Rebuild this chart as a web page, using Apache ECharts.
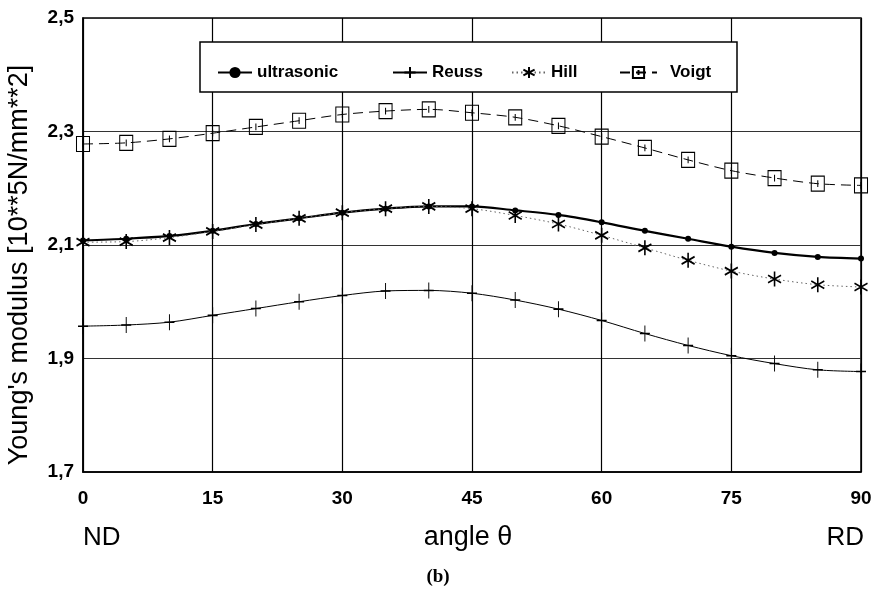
<!DOCTYPE html>
<html>
<head>
<meta charset="utf-8">
<script src="https://cdn.jsdelivr.net/npm/echarts@6/dist/echarts.min.js"></script>
<style>
  html, body { margin: 0; padding: 0; background: #fff; }
  #main { width: 877px; height: 590px; }
</style>
</head>
<body>
<div id="main"></div>
<script>
// angle from ND (0) to RD (90), every 5 degrees
const angles = [0, 5, 10, 15, 20, 25, 30, 35, 40, 45, 50, 55, 60, 65, 70, 75, 80, 85, 90]
const ultrasonic = [2.108, 2.111, 2.116, 2.125, 2.137, 2.147, 2.157, 2.164, 2.168, 2.168, 2.161, 2.153, 2.140, 2.125, 2.111, 2.097, 2.086, 2.079, 2.076]
const reuss = [1.957, 1.959, 1.964, 1.976, 1.988, 2.000, 2.011, 2.019, 2.020, 2.015, 2.003, 1.987, 1.967, 1.944, 1.923, 1.905, 1.891, 1.880, 1.877]
const hill = [2.105, 2.106, 2.113, 2.124, 2.136, 2.147, 2.157, 2.164, 2.168, 2.164, 2.152, 2.137, 2.117, 2.095, 2.073, 2.054, 2.040, 2.030, 2.026]
const voigt = [2.278, 2.280, 2.287, 2.297, 2.308, 2.319, 2.330, 2.336, 2.339, 2.333, 2.325, 2.310, 2.291, 2.271, 2.250, 2.231, 2.218, 2.208, 2.205]

const font = 'Liberation Sans, Arial, sans-serif'
const pair = (arr) => angles.map((a, i) => [a, arr[i]])

// marker shapes
const plusPath = 'path://M0,-1L0,1M-0.6,0L0.6,0'
const starPath = 'path://M0,-1L0,1M-0.87,-0.5L0.87,0.5M-0.87,0.5L0.87,-0.5'
const boxPath = 'path://M-1,-1L1,-1L1,1L-1,1ZM0,-0.45L0,0.45'

const chart = echarts.init(document.getElementById('main'))

const legendBase = {
    top: 64,
    padding: 0,
    itemWidth: 34,
    itemHeight: 14,
    selectedMode: false,
    textStyle: { fontFamily: font, fontSize: 17, fontWeight: 'bold', color: '#000' }
}

const option = {
    backgroundColor: '#fff',
    animation: false,
    grid: {
        left: 83,
        right: 16,
        top: 18,
        bottom: 118,
        show: true,
        borderColor: '#000',
        borderWidth: 1.5
    },
    legend: [
        Object.assign({}, legendBase, { data: ['ultrasonic'], left: 217 }),
        Object.assign({}, legendBase, { data: ['Reuss'], left: 392 }),
        Object.assign({}, legendBase, { data: ['Hill'], left: 511 }),
        Object.assign({}, legendBase, { data: ['Voigt'], left: 619, itemWidth: 37,
            textStyle: Object.assign({}, legendBase.textStyle, { padding: [0, 0, 0, 8] }) })
    ],
    xAxis: {
        type: 'value',
        min: 0,
        max: 90,
        interval: 15,
        axisLine: { lineStyle: { color: '#000', width: 1.5 } },
        axisTick: { show: false },
        axisLabel: { fontFamily: font, fontSize: 19, fontWeight: 'bold', color: '#000', margin: 17 },
        splitLine: { lineStyle: { color: '#000', width: 1.2 } }
    },
    yAxis: {
        type: 'value',
        min: 1.7,
        max: 2.5,
        interval: 0.1,
        axisLine: { show: true, lineStyle: { color: '#000', width: 1.5 } },
        axisTick: { show: false },
        axisLabel: {
            fontFamily: font,
            fontSize: 19,
            fontWeight: 'bold',
            color: '#000',
            margin: 9,
            formatter: (v) => (Math.round(v * 10) % 2 === 1 ? v.toFixed(1).replace('.', ',') : '')
        },
        splitLine: { lineStyle: { color: ['#333', 'rgba(0,0,0,0)'], width: 1 } }
    },
    graphic: [
        {
            type: 'rect',
            z: 3,
            shape: { x: 200, y: 42, width: 537, height: 50 },
            style: { fill: '#fff', stroke: '#000', lineWidth: 1.5 }
        },
        {
            type: 'text',
            x: 20,
            y: 265,
            rotation: Math.PI / 2,
            style: {
                text: "Young's modulus [10**5N/mm**2]",
                font: '27px ' + font,
                fill: '#000',
                textAlign: 'center',
                textVerticalAlign: 'middle'
            }
        },
        {
            type: 'text',
            x: 83,
            y: 538,
            style: { text: 'ND', font: '26px ' + font, fill: '#000', textAlign: 'left', textVerticalAlign: 'middle' }
        },
        {
            type: 'text',
            x: 468,
            y: 538,
            style: { text: 'angle θ', font: '27px ' + font, fill: '#000', textAlign: 'center', textVerticalAlign: 'middle' }
        },
        {
            type: 'text',
            x: 864,
            y: 538,
            style: { text: 'RD', font: '26px ' + font, fill: '#000', textAlign: 'right', textVerticalAlign: 'middle' }
        },
        {
            type: 'text',
            x: 438,
            y: 577,
            style: { text: '(b)', font: 'bold 19px Liberation Serif, serif', fill: '#000', textAlign: 'center', textVerticalAlign: 'middle' }
        }
    ],
    series: [
        {
            name: 'ultrasonic',
            type: 'line',
            data: pair(ultrasonic),
            smooth: 0.3,
            symbol: 'circle',
            symbolSize: 6,
            itemStyle: { color: '#000' },
            lineStyle: { color: '#000', width: 2.2 }
        },
        {
            name: 'Reuss',
            type: 'line',
            data: pair(reuss),
            smooth: 0.3,
            symbol: plusPath,
            symbolSize: [10, 16],
            itemStyle: { color: 'rgba(0,0,0,0)', borderColor: '#000', borderWidth: 1.2 },
            lineStyle: { color: '#000', width: 1 }
        },
        {
            name: 'Hill',
            type: 'line',
            data: pair(hill),
            smooth: 0.3,
            symbol: starPath,
            symbolSize: [13, 15],
            itemStyle: { color: 'rgba(0,0,0,0)', borderColor: '#000', borderWidth: 1.7 },
            lineStyle: { color: '#666', width: 1, type: [1.5, 3] }
        },
        {
            name: 'Voigt',
            type: 'line',
            data: pair(voigt),
            smooth: 0.3,
            symbol: boxPath,
            symbolSize: [13, 15],
            itemStyle: { color: 'rgba(0,0,0,0)', borderColor: '#000', borderWidth: 1.1 },
            lineStyle: { color: '#000', width: 1, type: [10, 6] }
        }
    ]
}

chart.setOption(option)
</script>
</body>
</html>
